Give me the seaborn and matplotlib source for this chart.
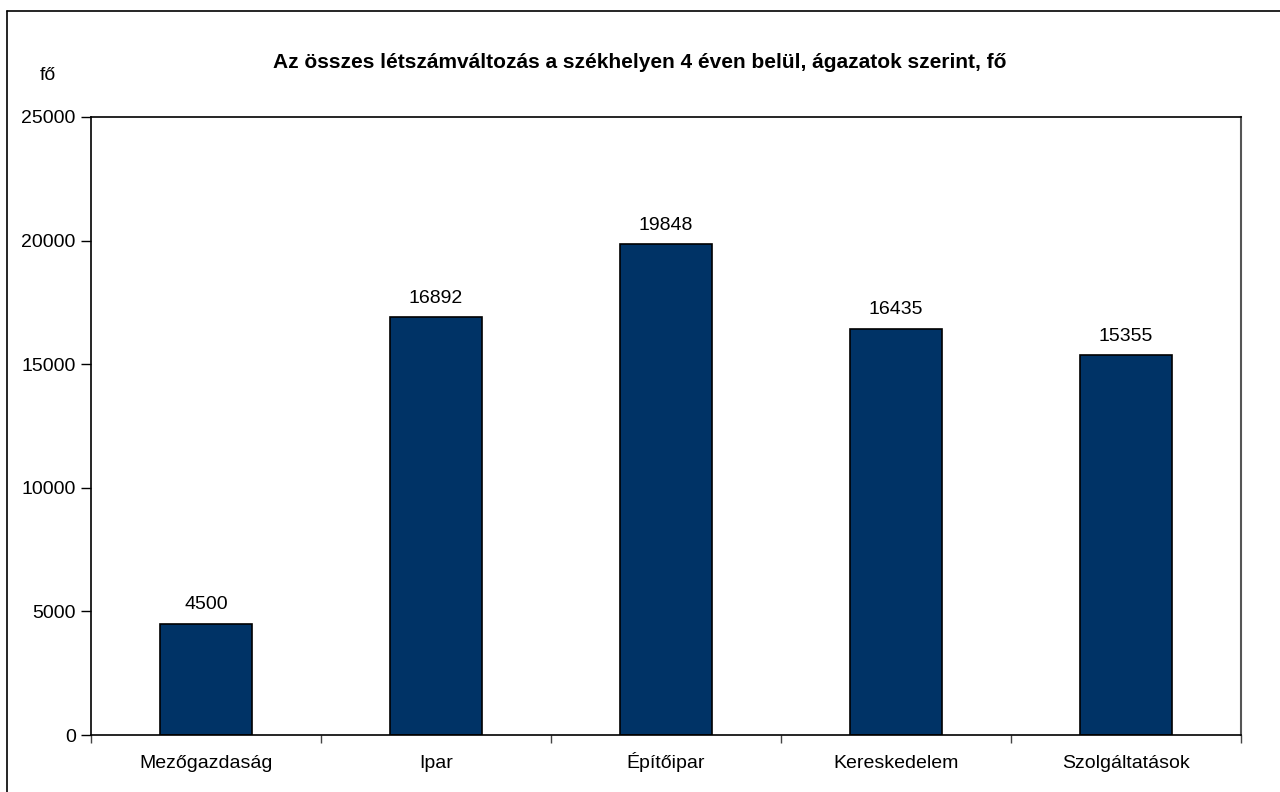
import pandas as pd
import numpy as np
import matplotlib
matplotlib.use("Agg")
import matplotlib.pyplot as plt
import seaborn as sns

# Data
categories = ["Mezőgazdaság", "Ipar", "Építőipar", "Kereskedelem", "Szolgáltatások"]
values = [4500, 16892, 19848, 16435, 15355]
yticks = [0, 5000, 10000, 15000, 20000, 25000]

sns.set_theme(style="white")
plt.rcParams['font.family'] = ['Liberation Sans', 'DejaVu Sans']
plt.rcParams['text.color'] = 'black'
plt.rcParams['xtick.color'] = 'black'
plt.rcParams['ytick.color'] = 'black'

df = pd.DataFrame({"agazat": categories, "fo": values})

fig = plt.figure(figsize=(12.8, 7.92), dpi=100)
ax = fig.add_axes([91 / 1280, 1 - 735 / 792, 1150 / 1280, 618 / 792])

sns.barplot(data=df, x="agazat", y="fo", color="#003366", saturation=1,
            width=0.40, edgecolor="black", linewidth=1.2, ax=ax)

for i, v in enumerate(values):
    ax.text(i, v + 420, str(v), ha="center", va="bottom", fontsize=14, color="black")

ax.set_xlim(-0.5, len(categories) - 0.5)
ax.set_ylim(0, 25000)
ax.set_yticks(yticks)
ax.set_yticklabels([str(t) for t in yticks], fontsize=14)
ax.tick_params(axis="y", direction="out", length=7, width=1, color="black", pad=4, left=True)
ax.tick_params(axis="x", which="major", length=0, labelsize=14, pad=23.5)
for lbl in ax.get_xticklabels():
    lbl.set_verticalalignment("baseline")
ax.set_xticks(np.arange(-0.5, len(categories)), minor=True)
ax.tick_params(axis="x", which="minor", direction="out", length=6, width=1, color="#444444", bottom=True)
ax.set_xlabel("")
ax.set_ylabel("")

for side in ["left", "top", "bottom"]:
    ax.spines[side].set_color("black")
    ax.spines[side].set_linewidth(1.2)
ax.spines["right"].set_color("#555555")
ax.spines["right"].set_linewidth(1.5)

fig.text(0.5, 1 - 63 / 792, "Az összes létszámváltozás a székhelyen 4 éven belül, ágazatok szerint, fő",
         ha="center", va="center", fontsize=15, fontweight="bold")
fig.text(48 / 1280, 1 - 75 / 792, "fő", ha="center", va="center", fontsize=14)

# outer frame (left and top edges visible)
fig.add_artist(plt.Line2D([7 / 1280, 7 / 1280], [0, 1 - 11 / 792], transform=fig.transFigure,
                          color="black", linewidth=1.2))
fig.add_artist(plt.Line2D([7 / 1280, 1], [1 - 11 / 792, 1 - 11 / 792], transform=fig.transFigure,
                          color="black", linewidth=1.2))

fig.savefig("out.png", dpi=100, facecolor="white")
